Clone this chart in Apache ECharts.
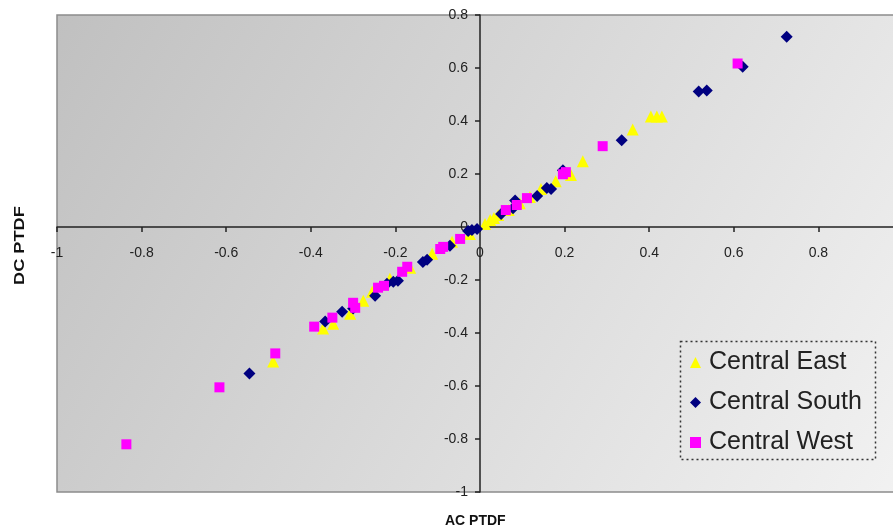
<!DOCTYPE html>
<html>
<head>
<meta charset="utf-8">
<script src="https://cdn.jsdelivr.net/npm/echarts@6/dist/echarts.min.js"></script>
<style>
html,body{margin:0;padding:0;background:#ffffff;}
#chart{width:893px;height:531px;}
</style>
</head>
<body>
<div id="chart"></div>
<script>
// Central East (yellow triangles)
var eastX = [-0.489,-0.371,-0.347,-0.307,-0.276,-0.255,-0.213,-0.165,-0.113,-0.066,-0.024,0.012,0.024,0.033,0.043,0.068,0.094,0.118,0.144,0.179,0.215,0.243,0.361,0.404,0.418,0.430];
var eastY = [-0.508,-0.383,-0.365,-0.327,-0.278,-0.244,-0.195,-0.154,-0.101,-0.056,-0.026,0.011,0.026,0.034,0.045,0.064,0.090,0.113,0.143,0.173,0.196,0.248,0.368,0.417,0.417,0.417];
// Central South (navy diamonds)
var southX = [-0.545,-0.366,-0.326,-0.300,-0.248,-0.220,-0.205,-0.194,-0.135,-0.125,-0.071,-0.028,-0.019,-0.007,0.050,0.078,0.083,0.135,0.158,0.168,0.196,0.335,0.517,0.536,0.621,0.725];
var southY = [-0.553,-0.357,-0.320,-0.308,-0.259,-0.214,-0.207,-0.203,-0.132,-0.124,-0.071,-0.015,-0.011,-0.008,0.049,0.071,0.100,0.117,0.147,0.143,0.214,0.327,0.511,0.515,0.605,0.718];
// Central West (magenta squares)
var westX = [-0.836,-0.616,-0.484,-0.392,-0.349,-0.300,-0.295,-0.241,-0.227,-0.184,-0.172,-0.094,-0.087,-0.047,0.061,0.087,0.111,0.196,0.203,0.290,0.609];
var westY = [-0.820,-0.605,-0.477,-0.376,-0.342,-0.286,-0.305,-0.229,-0.222,-0.169,-0.150,-0.083,-0.075,-0.045,0.064,0.083,0.109,0.199,0.207,0.305,0.617];

var seriesNames = ['Central East','Central South','Central West'];
var axisTitleX = 'AC PTDF';
var axisTitleY = 'DC PTDF';
var xMin = -1, xMax = 1, xStep = 0.2;
var yMin = -1, yMax = 0.8, yStep = 0.2;

function pairs(xs, ys){ return xs.map(function(v,i){ return [v, ys[i]]; }); }

var gridLeft = 57, gridTop = 15, gridW = 846, gridH = 477;
// place the axes so that they cross at the origin
var yAxisOffset = -gridW * (0 - xMin) / (xMax - xMin);
var xAxisOffset = -gridH * (0 - yMin) / (yMax - yMin);

var FONT = 'Arial, "Liberation Sans", sans-serif';
var chart = echarts.init(document.getElementById('chart'), null, {renderer:'canvas'});
chart.setOption({
  backgroundColor: '#ffffff',
  animation: false,
  grid: {
    left: gridLeft, top: gridTop, width: gridW, height: gridH,
    containLabel: false,
    outerBoundsMode: 'none',
    show: true,
    borderColor: '#8c8c8c', borderWidth: 1.5,
    backgroundColor: {
      type: 'linear', x: 0, y: 0, x2: 1, y2: 1,
      colorStops: [{offset: 0, color: '#c0c0c0'}, {offset: 1, color: '#f2f2f2'}]
    }
  },
  xAxis: {
    type: 'value', min: xMin, max: xMax, interval: xStep,
    position: 'bottom', offset: xAxisOffset,
    axisLine: {onZero: false, lineStyle: {color: '#222', width: 1.5}},
    axisTick: {show: true, length: 5, lineStyle: {color: '#222', width: 1.5}},
    axisLabel: {fontFamily: FONT, fontSize: 14, color: '#222', margin: 19},
    splitLine: {show: false}
  },
  yAxis: {
    type: 'value', min: yMin, max: yMax, interval: yStep,
    position: 'left', offset: yAxisOffset,
    axisLine: {onZero: false, lineStyle: {color: '#222', width: 1.5}},
    axisTick: {show: true, length: 5, lineStyle: {color: '#222', width: 1.5}},
    axisLabel: {fontFamily: FONT, fontSize: 14, color: '#222', margin: 12},
    splitLine: {show: false}
  },
  legend: {
    orient: 'vertical', left: 685, top: 344,
    itemWidth: 11, itemHeight: 11, itemGap: 13,
    textStyle: {fontFamily: FONT, fontSize: 25, color: '#222', lineHeight: 27, padding: [0, 0, 0, 3]},
    data: seriesNames
  },
  graphic: [
    {type: 'rect', left: 678, top: 339, shape: {width: 195, height: 118},
     style: {fill: 'none', stroke: '#333', lineWidth: 1.5, lineDash: [2, 3]}, z: 100},
    {type: 'text', x: 13, y: 285, rotation: Math.PI / 2, scaleX: 1.3,
     style: {text: axisTitleY, font: 'bold 14px ' + FONT, fill: '#111'}},
    {type: 'text', left: 445, top: 514,
     style: {text: axisTitleX, font: 'bold 14px ' + FONT, fill: '#111'}}
  ],
  series: [
    {name: seriesNames[0], type: 'scatter', symbol: 'triangle', symbolSize: 12,
     itemStyle: {color: '#ffff00', opacity: 1}, data: pairs(eastX, eastY)},
    {name: seriesNames[1], type: 'scatter', symbol: 'diamond', symbolSize: 12,
     itemStyle: {color: '#000080', opacity: 1}, data: pairs(southX, southY)},
    {name: seriesNames[2], type: 'scatter', symbol: 'rect', symbolSize: 10,
     itemStyle: {color: '#ff00ff', opacity: 1}, data: pairs(westX, westY)}
  ]
});
</script>
</body>
</html>
